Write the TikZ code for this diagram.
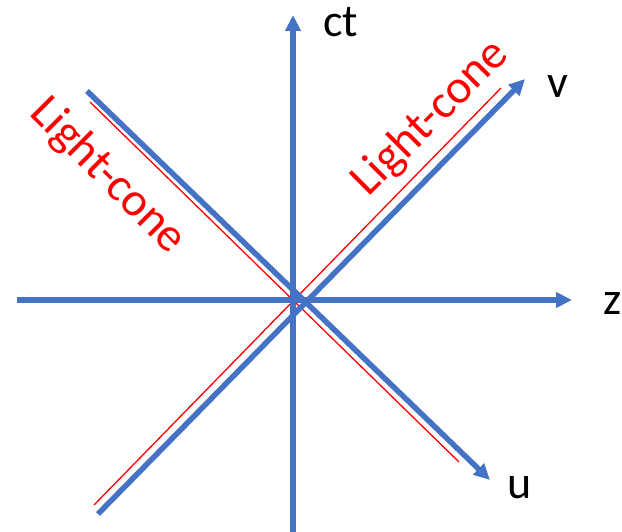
\documentclass[tikz,border=0pt]{standalone}
\usepackage{fontspec}
\setmainfont{Carlito}
\usetikzlibrary{arrows.meta}
\definecolor{axisblue}{RGB}{68,114,196}
\definecolor{conered}{RGB}{255,0,0}
\begin{document}
\begin{tikzpicture}[x=1pt,y=-1pt,
  axisline/.style={draw=axisblue,line width=5.5pt},
  axisarrow/.style={axisline,-{Triangle[length=16pt,width=15pt]}},
  coneline/.style={draw=conered,line width=1.3pt},
  lbl/.style={anchor=base,inner sep=0pt,font=\fontsize{46}{50}\selectfont},
  conelbl/.style={lbl,text=conered,font=\fontsize{47.5}{52}\selectfont}]
\useasboundingbox (0,0) rectangle (622,532);
% end points
\coordinate (zL) at (17,300);
\coordinate (zR) at (572,300);
\coordinate (tB) at (293,532);
\coordinate (tT) at (293,15);
\coordinate (uS) at (87,91);
\coordinate (uE) at (490,480);
\coordinate (vS) at (98,514);
\coordinate (vE) at (525,79);
\coordinate (r1S) at (90,102);
\coordinate (r1E) at (459,462);
\coordinate (r2S) at (94,505);
\coordinate (r2E) at (501,88);
% cone lines
\draw[coneline] (r1S) -- (r1E);
\draw[coneline] (r2S) -- (r2E);
% axes
\draw[axisarrow] (zL) -- (zR);
\draw[axisarrow] (tB) -- (tT);
\draw[axisarrow] (uS) -- (uE);
\draw[axisarrow] (vS) -- (vE);
% labels
\node[lbl] (ct) at (340.5,37) {ct};
\node[lbl] (z) at (612.5,315) {z};
\node[lbl] (v) at (557.5,98) {v};
\node[lbl] (u) at (520,498) {u};
\node[conelbl,rotate=-45] (lcL) at (99,185) {Light-cone};
\node[conelbl,rotate=45] (lcR) at (439.5,127) {Light-cone};
\end{tikzpicture}
\end{document}
